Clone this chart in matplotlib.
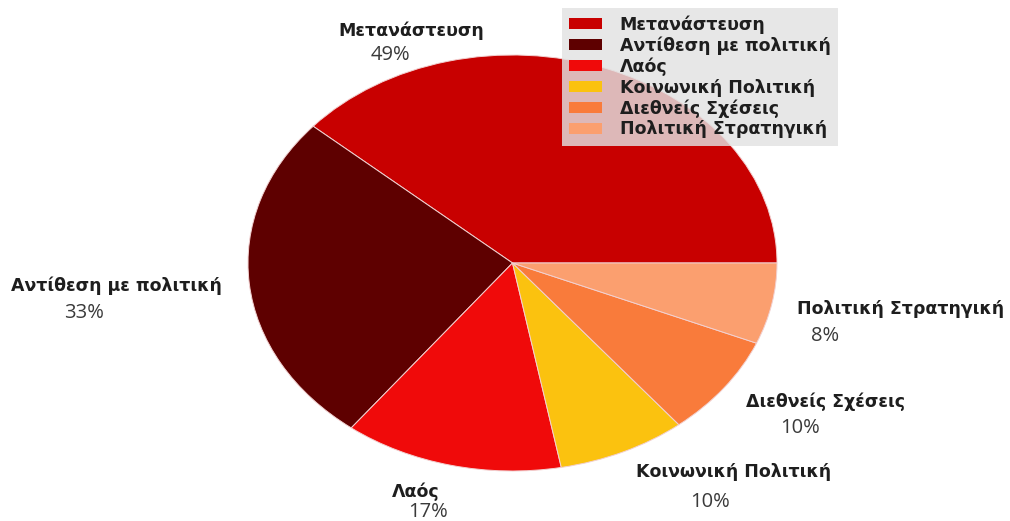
import matplotlib
matplotlib.use("Agg")
import matplotlib.pyplot as plt

# Topic shares (percent labels as shown on the chart)
categories = ["Μετανάστευση", "Αντίθεση με πολιτική", "Λαός",
              "Κοινωνική Πολιτική", "Διεθνείς Σχέσεις", "Πολιτική Στρατηγική"]
values = [49, 33, 17, 10, 10, 8]
colors = ["#c80000", "#5e0000", "#f00a0a", "#fbc20f", "#f97b3b", "#fb9f6f"]

W, H = 1010, 521
fig = plt.figure(figsize=(W / 100, H / 100), dpi=100)
fig.patch.set_facecolor("white")

# Elliptical pie: axes box spans the ellipse bounds (pixels)
x0, x1, y_top, y_bot = 248, 777, 55, 471
ax = fig.add_axes([x0 / W, (H - y_bot) / H, (x1 - x0) / W, (y_bot - y_top) / H])
wedges, _ = ax.pie(values, colors=colors, startangle=0, counterclock=True,
                   radius=1, center=(0, 0),
                   wedgeprops=dict(edgecolor="#f2d0d0", linewidth=0.7))
ax.set_aspect("auto")
ax.set_xlim(-1, 1)
ax.set_ylim(-1, 1)
ax.axis("off")

name_font = "DejaVu Sans"
pct_font = "Open Sans"
name_size = 12.5
name_kw = dict(fontsize=name_size, fontweight="bold", color="#1e1e1e", family=name_font,
               ha="center", va="center")
pct_kw = dict(fontsize=14.5, color="#3a3a3a", family=pct_font, ha="center", va="center")

# Label anchor points in pixels: (name x, name y, percent x, percent y)
label_pos = [
    (411, 31, 390, 55),
    (116, 286, 84, 313),
    (416, 492, 428, 512),
    (734, 472, 710, 502),
    (826, 402, 800, 428),
    (901, 309, 825, 336),
]
for name, v, (nx, ny, px, py) in zip(categories, values, label_pos):
    fig.text(nx / W, 1 - ny / H, name, **name_kw)
    fig.text(px / W, 1 - py / H, f"{v}%", **pct_kw)

leg = fig.legend(wedges, categories, loc="upper left",
                 bbox_to_anchor=(562 / W, 1 - 8 / H),
                 frameon=True, facecolor="#e2e2e2", edgecolor="none",
                 framealpha=0.82, fancybox=False,
                 prop=dict(family=name_font, weight="bold", size=name_size),
                 handlelength=1.9, handleheight=0.6, handletextpad=1.0,
                 labelspacing=0.15, borderpad=0.42, borderaxespad=0)
for t in leg.get_texts():
    t.set_color("#1e1e1e")
for h in leg.legend_handles:
    h.set_edgecolor("none")

fig.savefig("out.png", dpi=100, facecolor="white")
